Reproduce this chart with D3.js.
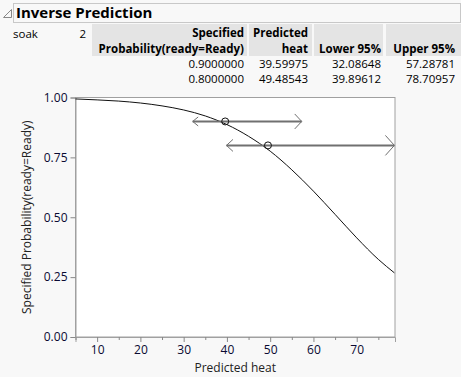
<!DOCTYPE html>
<html lang="en">
<head>
<meta charset="utf-8">
<title>Inverse Prediction</title>
<script src="https://d3js.org/d3.v7.min.js"></script>
<style>
    * { margin: 0; padding: 0; }
    body { background: #f8f8f8; width: 461px; height: 377px; overflow: hidden; }
    svg { display: block; font-family: "Open Sans", "DejaVu Sans", sans-serif; }
</style>
</head>
<body>
<div id="container"></div>
<script>
    // table values
    const headers = [["Specified", "Probability(ready=Ready)"], ["Predicted", "heat"], ["", "Lower 95%"], ["", "Upper 95%"]];
    const specified = [0.9, 0.8];
    const predicted = [39.59975, 49.48543];
    const lower95 = [32.08648, 39.89612];
    const upper95 = [57.28781, 78.70957];

    // fitted curve
    const curveHeat = [5, 10, 15, 20, 25, 30, 35, 40, 45, 50, 55, 60, 65, 70, 75, 78.7];
    const curveProb = [0.994, 0.990, 0.985, 0.977, 0.965, 0.948, 0.923, 0.887, 0.838, 0.776, 0.698, 0.609, 0.512, 0.414, 0.324, 0.268];

    const xTicks = [10, 20, 30, 40, 50, 60, 70];
    const xMinor = [5, 15, 25, 35, 45, 55, 65, 75];
    const yTicks = [0, 0.25, 0.5, 0.75, 1];

    const w = 461, h = 377;
    const svg = d3.select("#container").append("svg").attr("width", w).attr("height", h);

    // title bar
    svg.append("rect").attr("x", 13.5).attr("y", 3.5).attr("width", 447).attr("height", 19)
        .attr("fill", "#f8f8f8").attr("stroke", "#c8c8c8");
    svg.append("path").attr("d", "M3.5,17.5 L11.5,9.5 L11.5,17.5 Z").attr("fill", "none").attr("stroke", "#888");
    svg.append("text").attr("x", 16).attr("y", 18).attr("font-size", 15).attr("font-weight", "bold")
        .attr("fill", "#000").text("Inverse Prediction");

    // table
    svg.append("text").attr("x", 13).attr("y", 38).attr("font-size", 11.5).text("soak");
    svg.append("text").attr("x", 86).attr("y", 38).attr("font-size", 11.5).attr("text-anchor", "end").text("2");

    const cols = [[92, 247, 244], [249, 312, 308], [314, 383, 381], [386, 461, 455]];
    cols.forEach((c, i) => {
        svg.append("rect").attr("x", c[0]).attr("y", 24).attr("width", c[1] - c[0]).attr("height", 32).attr("fill", "#e4e4e4");
        headers[i].forEach((t, j) => {
            svg.append("text").attr("x", c[2]).attr("y", 37 + j * 16).attr("font-size", 11.5)
                .attr("font-weight", "bold").attr("text-anchor", "end").text(t);
        });
    });
    const rowVals = [specified.map(d => d.toFixed(7)), predicted.map(d => d.toFixed(5)),
        lower95.map(d => d.toFixed(5)), upper95.map(d => d.toFixed(5))];
    rowVals.forEach((vals, i) => {
        vals.forEach((v, j) => {
            svg.append("text").attr("x", cols[i][2]).attr("y", 68 + j * 14.5).attr("font-size", 11.5)
                .attr("text-anchor", "end").text(v);
        });
    });

    // plot
    const m = { left: 75.5, right: 395, top: 97.5, bottom: 337 };
    const x = d3.scaleLinear().domain([5, 78.85]).range([m.left, m.right]);
    const y = d3.scaleLinear().domain([0, 1]).range([m.bottom, m.top]);

    svg.append("rect").attr("x", m.left).attr("y", m.top).attr("width", m.right - m.left).attr("height", m.bottom - m.top)
        .attr("fill", "#fff").attr("stroke", "#a0a0a0");

    const axisColor = "#0a0a32";
    const xAxis = svg.append("g").attr("transform", `translate(0,${m.bottom})`)
        .call(d3.axisBottom(x).tickValues(xTicks).tickSize(5).tickPadding(3));
    svg.append("g").attr("transform", `translate(0,${m.bottom})`)
        .call(d3.axisBottom(x).tickValues(xMinor).tickSize(3).tickFormat(""))
        .call(g => g.select(".domain").remove())
        .selectAll("line").attr("stroke", "#888");
    const yAxis = svg.append("g").attr("transform", `translate(${m.left},0)`)
        .call(d3.axisLeft(y).tickValues(yTicks).tickSize(5).tickPadding(3).tickFormat(d3.format(".2f")));
    [xAxis, yAxis].forEach(g => {
        g.select(".domain").attr("stroke", "#a0a0a0");
        g.selectAll("line").attr("stroke", "#888");
        g.selectAll("text").attr("fill", axisColor).attr("font-size", 12)
            .attr("font-family", "\"Open Sans\", \"DejaVu Sans\", sans-serif");
    });

    svg.append("text").attr("x", (m.left + m.right) / 2).attr("y", 372).attr("text-anchor", "middle")
        .attr("font-size", 12).attr("fill", "#222").text("Predicted heat");
    svg.append("text").attr("transform", `translate(31,${(m.top + m.bottom) / 2}) rotate(-90)`)
        .attr("text-anchor", "middle").attr("font-size", 12).attr("fill", "#222")
        .text("Specified Probability(ready=Ready)");

    const line = d3.line().x(d => x(d[0])).y(d => y(d[1])).curve(d3.curveMonotoneX);
    svg.append("path").datum(curveHeat.map((d, i) => [d, curveProb[i]]))
        .attr("d", line).attr("fill", "none").attr("stroke", "#111").attr("stroke-width", 1);

    // interval arrows (head sizes [dx, dy] for left and right ends)
    const heads = [[[5.5, 4.5], [7, 7.5]], [[6.5, 6], [9, 10]]];
    specified.forEach((p, i) => {
        const yy = y(p), x0 = x(lower95[i]), x1 = x(upper95[i]);
        const [hl, hr] = heads[i];
        const g = svg.append("g").attr("stroke", "#707070").attr("fill", "none");
        g.append("line").attr("x1", x0).attr("x2", x1).attr("y1", yy).attr("y2", yy).attr("stroke-width", 2);
        g.append("path").attr("d", `M${x0 + hl[0]},${yy - hl[1]} L${x0},${yy} L${x0 + hl[0]},${yy + hl[1]}`).attr("stroke-width", 1);
        g.append("path").attr("d", `M${x1 - hr[0]},${yy - hr[1]} L${x1},${yy} L${x1 - hr[0]},${yy + hr[1]}`).attr("stroke-width", 1);
        svg.append("circle").attr("cx", x(predicted[i])).attr("cy", yy).attr("r", 3.5)
            .attr("fill", "none").attr("stroke", "#111").attr("stroke-width", 1);
    });
</script>
</body>
</html>
